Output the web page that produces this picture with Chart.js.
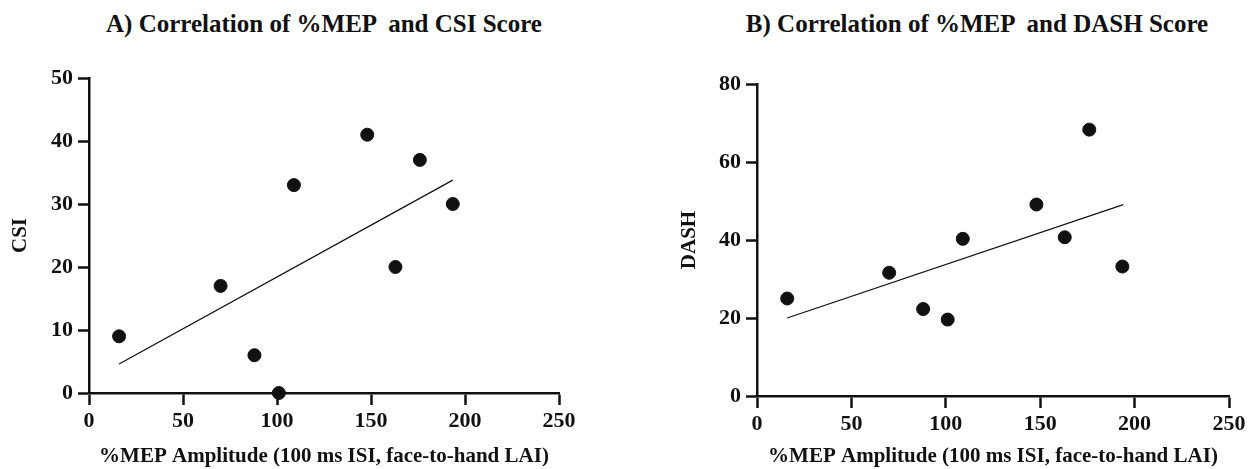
<!DOCTYPE html>
<html>
<head>
<meta charset="utf-8">
<script src="https://cdn.jsdelivr.net/npm/chart.js@4.4.1/dist/chart.umd.min.js"></script>
<style>
body { margin: 0; background: #fff; }
#wrap { position: relative; width: 1249px; height: 469px; overflow: hidden; }
.ttl { position: absolute; top: 11px; font: bold 25px/1 "Liberation Serif", serif; color: #111; white-space: pre; transform: translateX(-50%); }
canvas { position: absolute; top: 0; }
</style>
</head>
<body>
<div id="wrap">
  <div class="ttl" style="left:324px">A) Correlation of %MEP  and CSI Score</div>
  <div class="ttl" style="left:977px">B) Correlation of %MEP  and DASH Score</div>
  <canvas id="csiChart" width="624" height="469" style="left:0"></canvas>
  <canvas id="dashChart" width="625" height="469" style="left:624px"></canvas>
</div>
<script>
// ===== DATA =====
const mepAmp = [16, 70, 88, 101, 109, 148, 163, 176, 193.5];
const csiScore = [9, 17, 6, 0, 33, 41, 20, 37, 30];
const dashScore = [25, 31.6, 22.3, 19.6, 40.3, 49.1, 40.7, 68.3, 33.2];

// fitted lines, end points
const csiFitX = [16, 193.5];
const csiFitY = [4.6, 33.8];
const dashFitX = [16, 194];
const dashFitY = [20.0, 49.1];

const xTitle = '%MEP Amplitude (100 ms ISI, face-to-hand LAI)';

function toPoints(xs, ys){
  return xs.map((x, i) => ({ x: x, y: ys[i] }));
}

const serif = '"Liberation Serif", "Times New Roman", serif';
const ink = '#111';

function makeChart(id, cfg){
  const ctx = document.getElementById(id);
  return new Chart(ctx, {
    type: 'scatter',
    data: {
      datasets: [
        {
          data: toPoints(mepAmp, cfg.scores),
          backgroundColor: ink,
          borderColor: ink,
          pointRadius: 6.5,
          pointHoverRadius: 6.5,
          clip: false
        },
        {
          type: 'line',
          data: toPoints(cfg.fitX, cfg.fitY),
          borderColor: ink,
          borderWidth: 1.3,
          pointRadius: 0,
          fill: false,
          clip: false
        }
      ]
    },
    options: {
      responsive: false,
      animation: false,
      events: [],
      layout: {
        padding: { left: 0, right: cfg.padRight, top: cfg.padTop, bottom: 0 }
      },
      plugins: {
        legend: { display: false },
        tooltip: { enabled: false }
      },
      scales: {
        x: {
          type: 'linear',
          min: 0,
          max: 250,
          afterFit: s => { s.height = cfg.xHeight; },
          ticks: {
            stepSize: 50,
            color: ink,
            padding: 3,
            font: { family: serif, size: 22, weight: 'bold' }
          },
          grid: {
            drawOnChartArea: false,
            drawTicks: true,
            tickLength: 12,
            tickWidth: 2.5,
            tickColor: ink
          },
          border: { display: true, color: ink, width: 2.5 },
          title: {
            display: true,
            text: xTitle,
            color: ink,
            padding: { top: 0, bottom: cfg.xTitlePad },
            font: { family: serif, size: 21, weight: 'bold' }
          }
        },
        y: {
          type: 'linear',
          min: 0,
          max: cfg.yMax,
          afterFit: s => { s.width = cfg.yWidth; },
          ticks: {
            stepSize: cfg.yStep,
            color: ink,
            padding: 5,
            font: { family: serif, size: 22, weight: 'bold' }
          },
          grid: {
            drawOnChartArea: false,
            drawTicks: true,
            tickLength: 11,
            tickWidth: 2.5,
            tickColor: ink
          },
          border: { display: true, color: ink, width: 2.5 },
          title: {
            display: true,
            text: cfg.yTitle,
            color: ink,
            padding: { top: cfg.yTitlePad, bottom: 0 },
            font: { family: serif, size: 21, weight: 'bold' }
          }
        }
      }
    }
  });
}

// A) CSI
makeChart('csiChart', {
  scores: csiScore, fitX: csiFitX, fitY: csiFitY,
  yMax: 50, yStep: 10, yTitle: 'CSI',
  yWidth: 89, padRight: 65, padTop: 78, xHeight: 76,
  xTitlePad: 0, yTitlePad: 8
});

// B) DASH
makeChart('dashChart', {
  scores: dashScore, fitX: dashFitX, fitY: dashFitY,
  yMax: 80, yStep: 20, yTitle: 'DASH',
  yWidth: 133, padRight: 20, padTop: 84, xHeight: 73,
  xTitlePad: 0, yTitlePad: 53
});
</script>
</body>
</html>
